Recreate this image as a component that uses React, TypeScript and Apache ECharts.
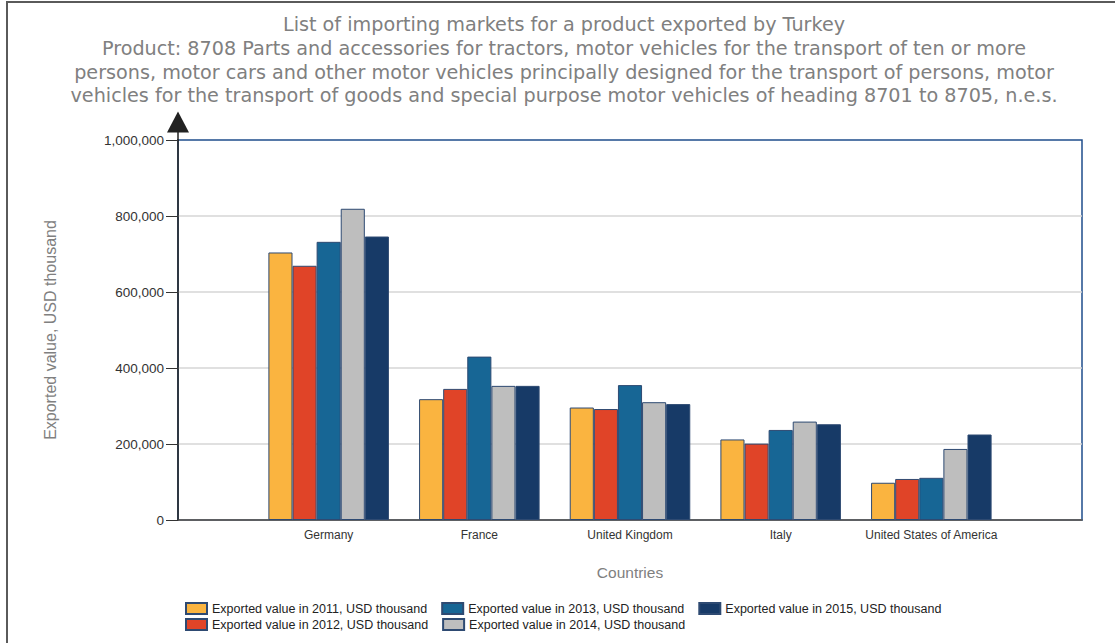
import React, { useEffect, useRef } from "react";
import * as echarts from "echarts";

const titleLines = [
  "List of importing markets for a product exported by Turkey",
  "Product: 8708 Parts and accessories for tractors, motor vehicles for the transport of ten or more",
  "persons, motor cars and other motor vehicles principally designed for the transport of persons, motor",
  "vehicles for the transport of goods and special purpose motor vehicles of heading 8701 to 8705, n.e.s.",
];

const categories = ["Germany", "France", "United Kingdom", "Italy", "United States of America"];
const years = ["2011", "2012", "2013", "2014", "2015"];

const v2011 = [704000, 318000, 296000, 212000, 98000];
const v2012 = [669000, 345000, 292000, 201000, 108000];
const v2013 = [732000, 430000, 355000, 237000, 111000];
const v2014 = [819000, 353000, 310000, 259000, 187000];
const v2015 = [746000, 353000, 305000, 252000, 225000];

const seriesValues = [v2011, v2012, v2013, v2014, v2015];
const colors = ["#FAB440", "#E04428", "#176695", "#BEBEBE", "#173A67"];

const yMin = 0;
const yMax = 1000000;
const yStep = 200000;

const seriesName = (y: string) => `Exported value in ${y}, USD thousand`;

export default function App() {
  const ref = useRef<HTMLDivElement>(null);

  useEffect(() => {
    document.body.style.margin = "0";
    if (!ref.current) return;
    const chart = echarts.init(ref.current, null, { renderer: "svg" });

    const axisCats = ["", ...categories, ""];
    const font = "Liberation Sans";

    const legendBase = {
      orient: "horizontal",
      icon: "rect",
      itemWidth: 21,
      itemHeight: 11,
      itemGap: 14,
      padding: 0,
      left: 185,
      textStyle: { fontFamily: font, fontSize: 12.5, color: "#222" },
      selectedMode: false,
    };

    const option: any = {
      animation: false,
      backgroundColor: "#ffffff",
      graphic: [
        {
          type: "rect",
          shape: { x: 7, y: 2, width: 1400, height: 900 },
          style: { fill: "none", stroke: "#5a5a5a", lineWidth: 2 },
          silent: true,
        },
        {
          type: "line",
          shape: { x1: 178, y1: 132, x2: 178, y2: 141 },
          style: { stroke: "#222", lineWidth: 1.5 },
          silent: true,
        },
        {
          type: "text",
          x: 564,
          y: 13,
          silent: true,
          style: {
            text: titleLines.join("\n"),
            align: "center",
            verticalAlign: "top",
            fontFamily: "DejaVu Sans",
            fontSize: 19.2,
            lineHeight: 23.7,
            fill: "#808080",
          },
        },
      ],
      legend: [
        { ...legendBase, data: [0, 2, 4].map((i) => seriesName(years[i])), top: 602 },
        { ...legendBase, data: [1, 3].map((i) => seriesName(years[i])), top: 618 },
      ],
      grid: {
        left: 178,
        top: 140,
        width: 904,
        height: 380,
        show: true,
        borderColor: "#1F4E8C",
        borderWidth: 1.5,
        backgroundColor: "transparent",
        containLabel: false,
      },
      xAxis: {
        type: "category",
        data: axisCats,
        boundaryGap: false,
        axisLine: { show: true, lineStyle: { color: "#404040", width: 1.5 } },
        axisTick: { show: false },
        axisLabel: { interval: 0, margin: 9, fontFamily: font, fontSize: 12, color: "#333" },
        splitLine: { show: false },
        name: "Countries",
        nameLocation: "middle",
        nameGap: 44,
        nameTextStyle: { fontFamily: font, fontSize: 15.5, color: "#808080" },
      },
      yAxis: {
        type: "value",
        min: yMin,
        max: yMax,
        interval: yStep,
        axisLine: {
          show: true,
          lineStyle: { color: "#222", width: 1.5 },
          symbol: ["none", "triangle"],
          symbolSize: [22, 21],
          symbolOffset: [0, 18],
        },
        axisTick: { show: true, length: 12, lineStyle: { color: "#333" } },
        axisLabel: {
          margin: 14,
          fontFamily: font,
          fontSize: 13.5,
          color: "#333",
          formatter: (v: number) => v.toLocaleString("en-US"),
        },
        splitLine: {
          show: true,
          showMaxLine: false,
          lineStyle: { color: "#d6d6d6", width: 1.5 },
        },
        name: "Exported value, USD thousand",
        nameLocation: "middle",
        nameGap: 120,
        nameTextStyle: { fontFamily: font, fontSize: 16, color: "#808080" },
      },
      series: years.map((y, i) => ({
        name: seriesName(y),
        type: "bar",
        data: [null, ...seriesValues[i], null],
        barGap: "0%",
        barCategoryGap: "20%",
        itemStyle: { color: colors[i], borderColor: "#2E4A72", borderWidth: 1 },
      })),
    };

    chart.setOption(option);
    return () => chart.dispose();
  }, []);

  return <div ref={ref} style={{ width: 1115, height: 643 }} />;
}
